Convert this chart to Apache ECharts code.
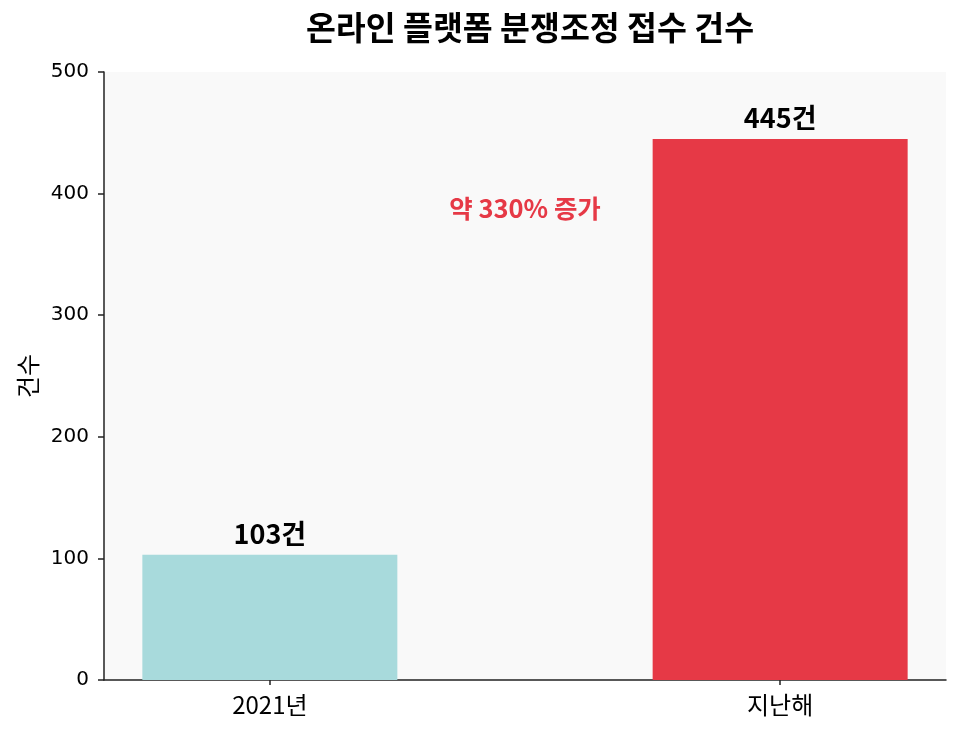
<!DOCTYPE html>
<html>
<head>
<meta charset="utf-8">
<script src="https://cdn.jsdelivr.net/npm/echarts@6/dist/echarts.min.js"></script>
<style>html,body{margin:0;padding:0;background:#fff;}#c{width:960px;height:736px;}</style>
</head>
<body>
<div id="c"></div>
<script>
const categories = ['2021년', '지난해'];
const counts = [103, 445];
const barColors = ['#a8dadc', '#e63946'];
const yTicks = [0, 100, 200, 300, 400, 500];
const annotationText = '약 330% 증가';
const annotationPos = [0.5, 388];
const FONT = '"Noto Sans CJK KR", "Noto Sans", sans-serif';
const NUMFONT = '"DejaVu Sans", sans-serif';

const chart = echarts.init(document.getElementById('c'));
chart.setOption({
  animation: false,
  backgroundColor: '#ffffff',
  textStyle: { fontFamily: FONT },
  title: {
    text: '온라인 플랫폼 분쟁조정 접수 건수',
    left: 525, top: 6, textAlign: 'center',
    textStyle: { fontFamily: FONT, fontSize: 32.5, fontWeight: 'bold', color: '#000' }
  },
  grid: { left: 104, right: 14, top: 72, bottom: 56, show: true, backgroundColor: '#f9f9f9', borderWidth: 0 },
  xAxis: {
    type: 'value', min: -0.325, max: 1.325,
    splitLine: { show: false },
    axisLine: { show: true, onZero: false, lineStyle: { color: '#222', width: 1.5 } },
    axisTick: { show: true, length: 5, customValues: [0, 1], lineStyle: { color: '#222', width: 1.5 } },
    axisLabel: {
      customValues: [0, 1], margin: 13,
      formatter: v => categories[Math.round(v)] || '',
      fontFamily: FONT, fontSize: 24, color: '#000'
    }
  },
  yAxis: {
    type: 'value', min: yTicks[0], max: yTicks[yTicks.length - 1], interval: 100,
    name: '건수', nameLocation: 'middle', nameGap: 64,
    nameTextStyle: { fontFamily: FONT, fontSize: 24, color: '#000' },
    splitLine: { show: false },
    axisLine: { show: true, onZero: false, lineStyle: { color: '#222', width: 1.5 } },
    axisTick: { show: true, length: 6, lineStyle: { color: '#222', width: 1.5 } },
    axisLabel: { margin: 15, fontFamily: NUMFONT, fontSize: 20, color: '#000' }
  },
  series: [
    {
      type: 'bar',
      barWidth: 255,
      data: counts.map((v, i) => ({ value: [i, v], itemStyle: { color: barColors[i] } })),
      label: {
        show: true, position: 'top', distance: 8,
        formatter: p => p.value[1] + '건',
        fontFamily: FONT, fontSize: 27, fontWeight: 'bold', color: '#000'
      }
    },
    {
      type: 'scatter',
      symbolSize: 0,
      silent: true,
      itemStyle: { opacity: 1 },
      data: [annotationPos],
      label: {
        show: true, position: 'inside', opacity: 1,
        formatter: annotationText,
        fontFamily: FONT, fontSize: 25.5, fontWeight: 'bold', color: '#e63946'
      }
    }
  ]
});
</script>
</body>
</html>
